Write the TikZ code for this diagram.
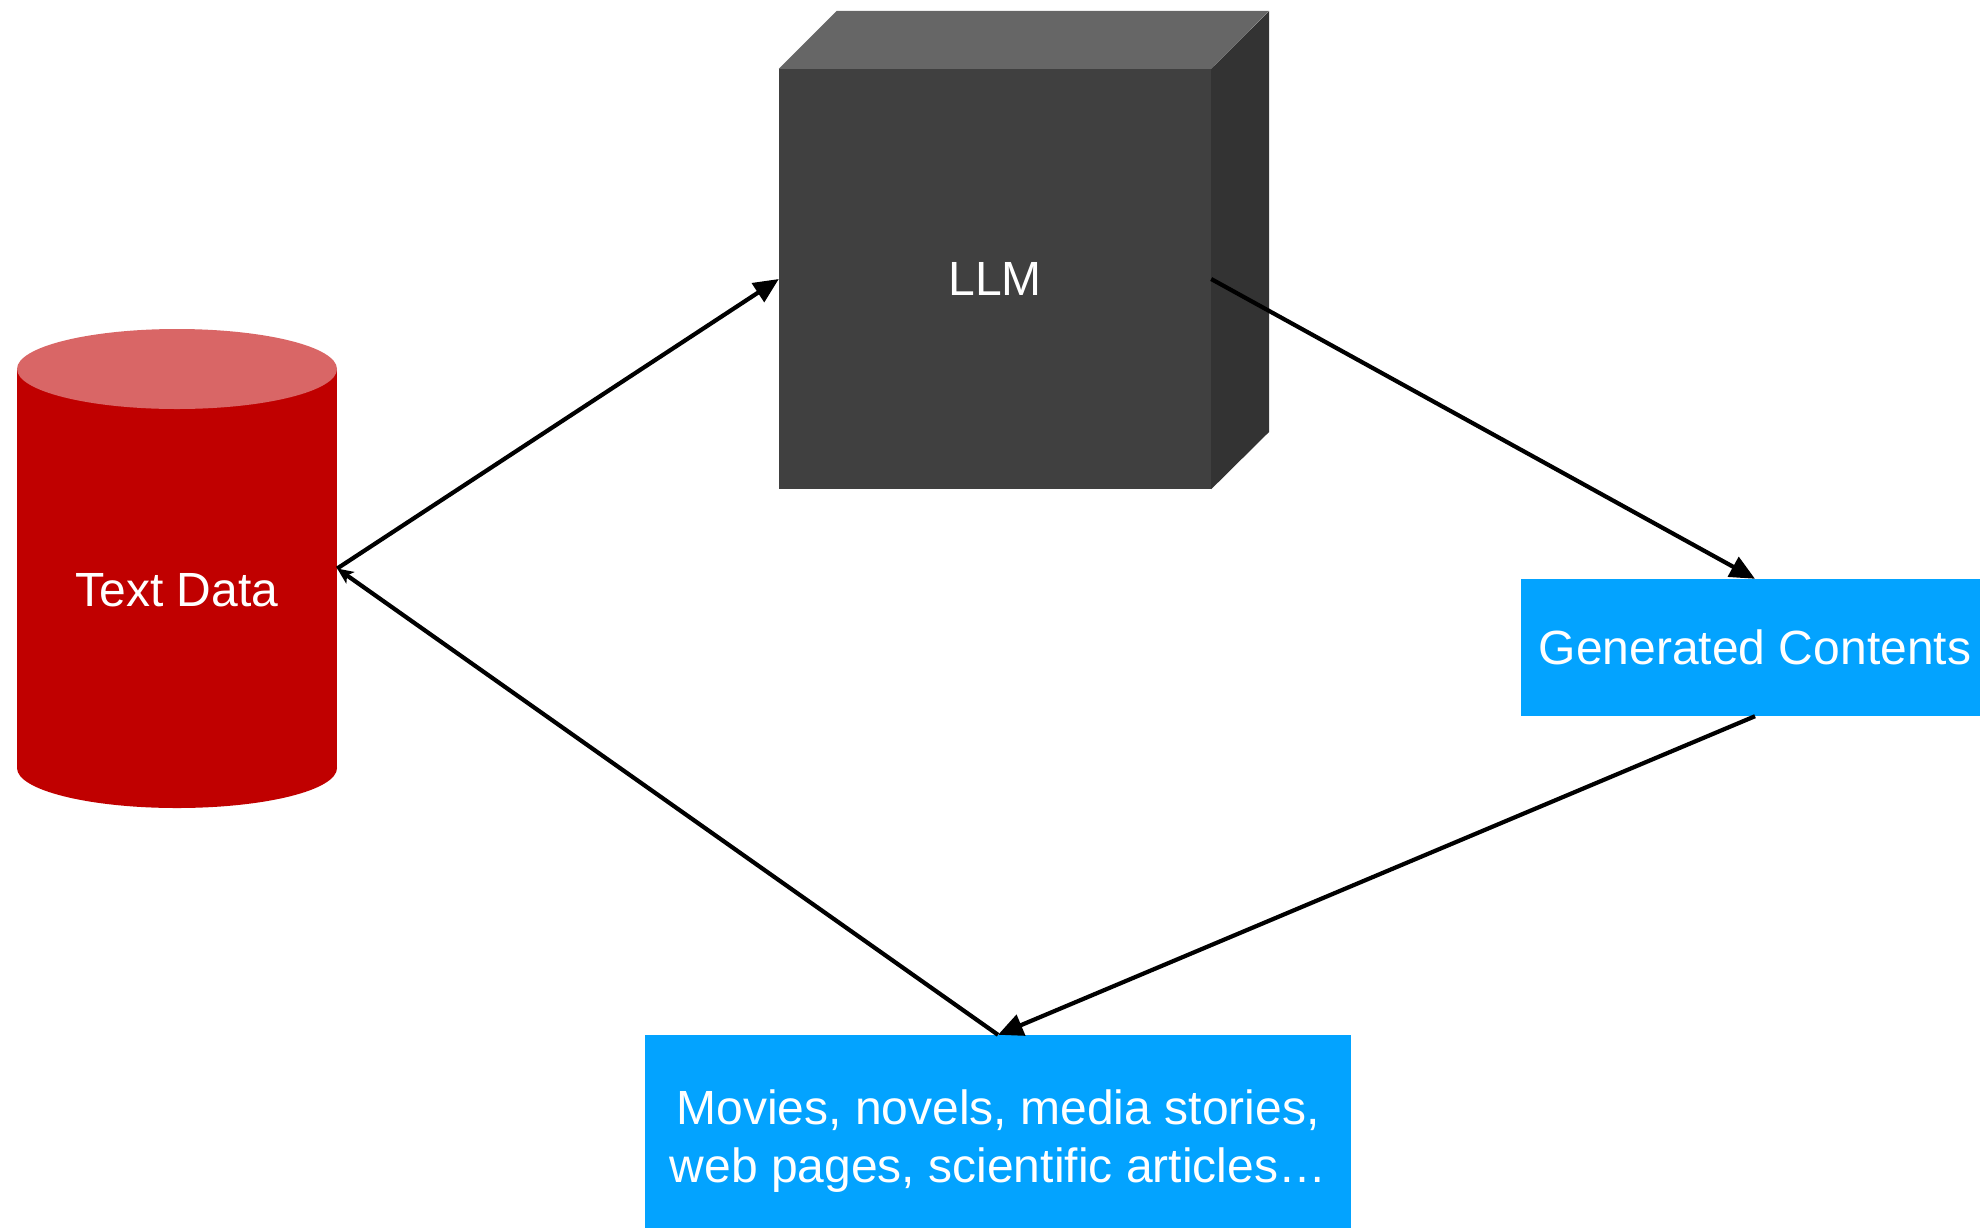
\documentclass[tikz,border=0pt]{standalone}
\usepackage{fontspec}
\setmainfont{Liberation Sans}
\usetikzlibrary{arrows.meta}
\definecolor{cylred}{HTML}{C00000}
\definecolor{cyltop}{HTML}{D96666}
\definecolor{cubefront}{HTML}{404040}
\definecolor{cubetop}{HTML}{666666}
\definecolor{cubeside}{HTML}{333333}
\definecolor{boxblue}{HTML}{03A3FF}
\begin{document}
\begin{tikzpicture}[x=1pt,y=-1pt,
  lbl/.style={text=white,font=\fontsize{48}{58}\selectfont},
  bluebox/.style={fill=boxblue,inner sep=0pt,lbl,align=center},
  conn/.style={line width=4.2pt,-{Triangle[length=25pt,width=22pt]}},
  connsmall/.style={line width=4.2pt,-{Stealth[length=16pt,width=14pt,inset=4pt]}}]
\useasboundingbox (0,0) rectangle (1980,1227);
% cylinder
\fill[cylred] (17,369) rectangle (337,768);
\fill[cylred] (177,768) ellipse [x radius=160pt, y radius=40pt];
\fill[cyltop] (177,369) ellipse [x radius=160pt, y radius=40pt];
\node[minimum width=320pt,minimum height=399pt,inner sep=0pt] (cyl) at (177,568.5) {};
\node[lbl] (td) at (177,590) {Text Data};
% cube
\node[fill=cubefront,minimum width=432pt,minimum height=420pt,inner sep=0pt,lbl] (llm) at (995,279) {\raisebox{-3pt}{LLM}};
\fill[cubetop] (llm.north west) -- ++(58,-58) -- ++(432,0) -- (llm.north east) -- cycle;
\fill[cubeside] (llm.north east) -- ++(58,-58) -- ++(0,421) -- (llm.south east) -- cycle;
% boxes
\node[bluebox,minimum width=468pt,minimum height=137pt] (gen) at (1755,647.5) {Generated Contents};
\node[bluebox,minimum width=706pt,minimum height=212pt] (mov) at (998,1141) {Movies, novels, media stories,\\web pages, scientific articles…};
% connectors
\draw[conn] (cyl.east) -- (llm.west);
\draw[conn] (llm.east) -- (gen.north);
\draw[conn] (gen.south) -- (mov.north);
\draw[connsmall] (mov.north) -- (cyl.east);
\end{tikzpicture}
\end{document}
